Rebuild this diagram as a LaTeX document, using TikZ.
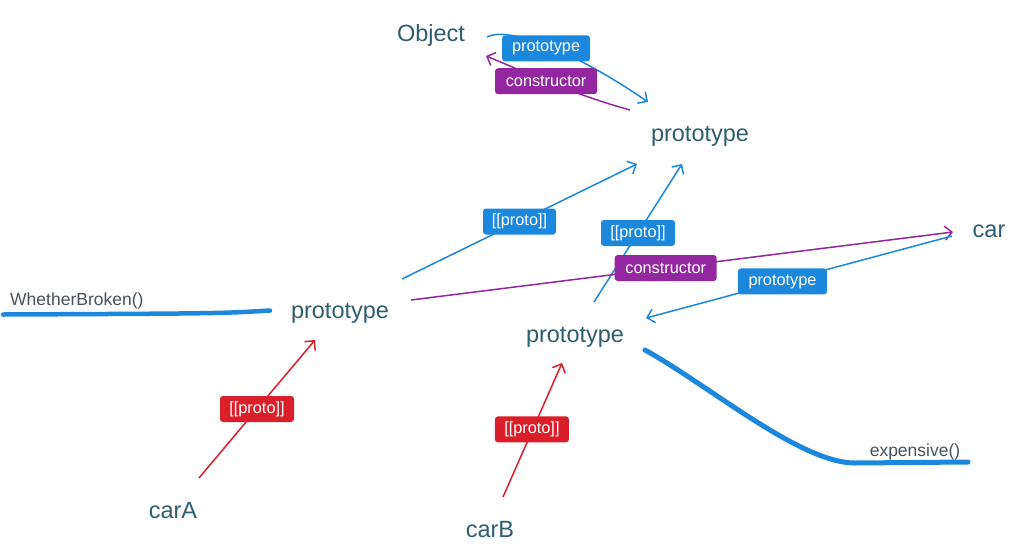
\documentclass[tikz,border=0pt]{standalone}
\usepackage{fontspec}
\setmainfont{Liberation Sans}
\usetikzlibrary{arrows.meta,calc}
\definecolor{txt}{HTML}{2E5D72}
\definecolor{methc}{HTML}{46535E}
\definecolor{cblue}{HTML}{1B88DD}
\definecolor{cpurple}{HTML}{9227A0}
\definecolor{cred}{HTML}{DA1F2B}
\tikzset{
  mainlbl/.style={inner sep=0pt, text=txt, font=\fontsize{23.5}{28}\selectfont},
  methlbl/.style={inner sep=0pt, text=methc, font=\fontsize{17.5}{20}\selectfont},
  tag/.style={rounded corners=3pt, text=white, inner sep=0pt, minimum height=26pt,
    font=\fontsize{16.3}{18}\selectfont},
  btag/.style={tag, fill=cblue},
  ptag/.style={tag, fill=cpurple},
  rtag/.style={tag, fill=cred},
  conn/.style={line width=1.5pt, -{Straight Barb[length=7pt,width=14pt]}},
  thick line/.style={draw=cblue, line cap=round},
}
\begin{document}
\begin{tikzpicture}[x=1pt,y=-1pt]
\useasboundingbox[fill=white] (0,0) rectangle (1029,560);

% main text nodes
\node[mainlbl] (obj) at (431,35) {Object};
\node[mainlbl] (pT) at (700,136) {prototype};
\node[mainlbl] (car) at (989,231) {car};
\node[mainlbl] (pL) at (340,313) {prototype};
\node[mainlbl] (pM) at (575,337) {prototype};
\node[mainlbl] (carA) at (173,511) {carA};
\node[mainlbl] (carB) at (490,530) {carB};

% method labels
\node[methlbl, anchor=west] (wb) at (10,301) {WhetherBroken()};
\node[methlbl] (exp) at (915,452) {expensive()};
\coordinate (wbend) at (3,314.5);
\coordinate (expend) at (968,462);

% thick method lines
\draw[thick line, line width=4.5pt] ([shift={(-70,-2.5)}]pL.center) .. controls (220,313.5) .. (wbend);
\draw[thick line, line width=5pt] ([shift={(70,13)}]pM.center) .. controls (710,386) and (800,463) .. (855,463) -- (expend);

% Object <-> prototype (top)
\draw[conn, draw=cblue] ([shift={(56,2)}]obj.center) .. controls (505,27) and (565,45) .. ([shift={(-52,-34)}]pT.center)
  node[btag, pos=0.5, xshift=3pt, yshift=-4pt, minimum width=88pt] (t1) {prototype};
\draw[conn, draw=cpurple] ([shift={(-70,-26)}]pT.center) .. controls (575,95) and (525,72) .. ([shift={(55,21)}]obj.center)
  node[ptag, pos=0.52, xshift=-3pt, yshift=1pt, minimum width=102pt] (t2) {constructor};

% [[proto]] links to top prototype
\draw[conn, draw=cblue] ([shift={(62,-34)}]pL.center) -- ([shift={(-63,28)}]pT.center)
  node[btag, pos=0.5, minimum width=73pt] (t3) {[[proto]]};
\draw[conn, draw=cblue] ([shift={(19,-35)}]pM.center) -- ([shift={(-18,28)}]pT.center)
  node[btag, pos=0.5, minimum width=74pt] (t4) {[[proto]]};

% constructor to car, prototype from car
\draw[conn, draw=cpurple] ([shift={(71,-13)}]pL.center) -- ([shift={(-36,1)}]car.center)
  node[ptag, pos=0.47, minimum width=102pt] (t5) {constructor};
\draw[conn, draw=cblue] ([shift={(-37,5)}]car.center) -- ([shift={(71,-19)}]pM.center)
  node[btag, pos=0.554, minimum width=89pt] (t6) {prototype};

% carA, carB
\draw[conn, draw=cred] ([shift={(26,-33)}]carA.center) -- ([shift={(-25,27)}]pL.center)
  node[rtag, pos=0.5, minimum width=74pt] (t7) {[[proto]]};
\draw[conn, draw=cred] ([shift={(13,-33)}]carB.center) -- ([shift={(-13,26)}]pM.center)
  node[rtag, pos=0.49, yshift=2pt, minimum width=74pt] (t8) {[[proto]]};
\end{tikzpicture}
\end{document}
